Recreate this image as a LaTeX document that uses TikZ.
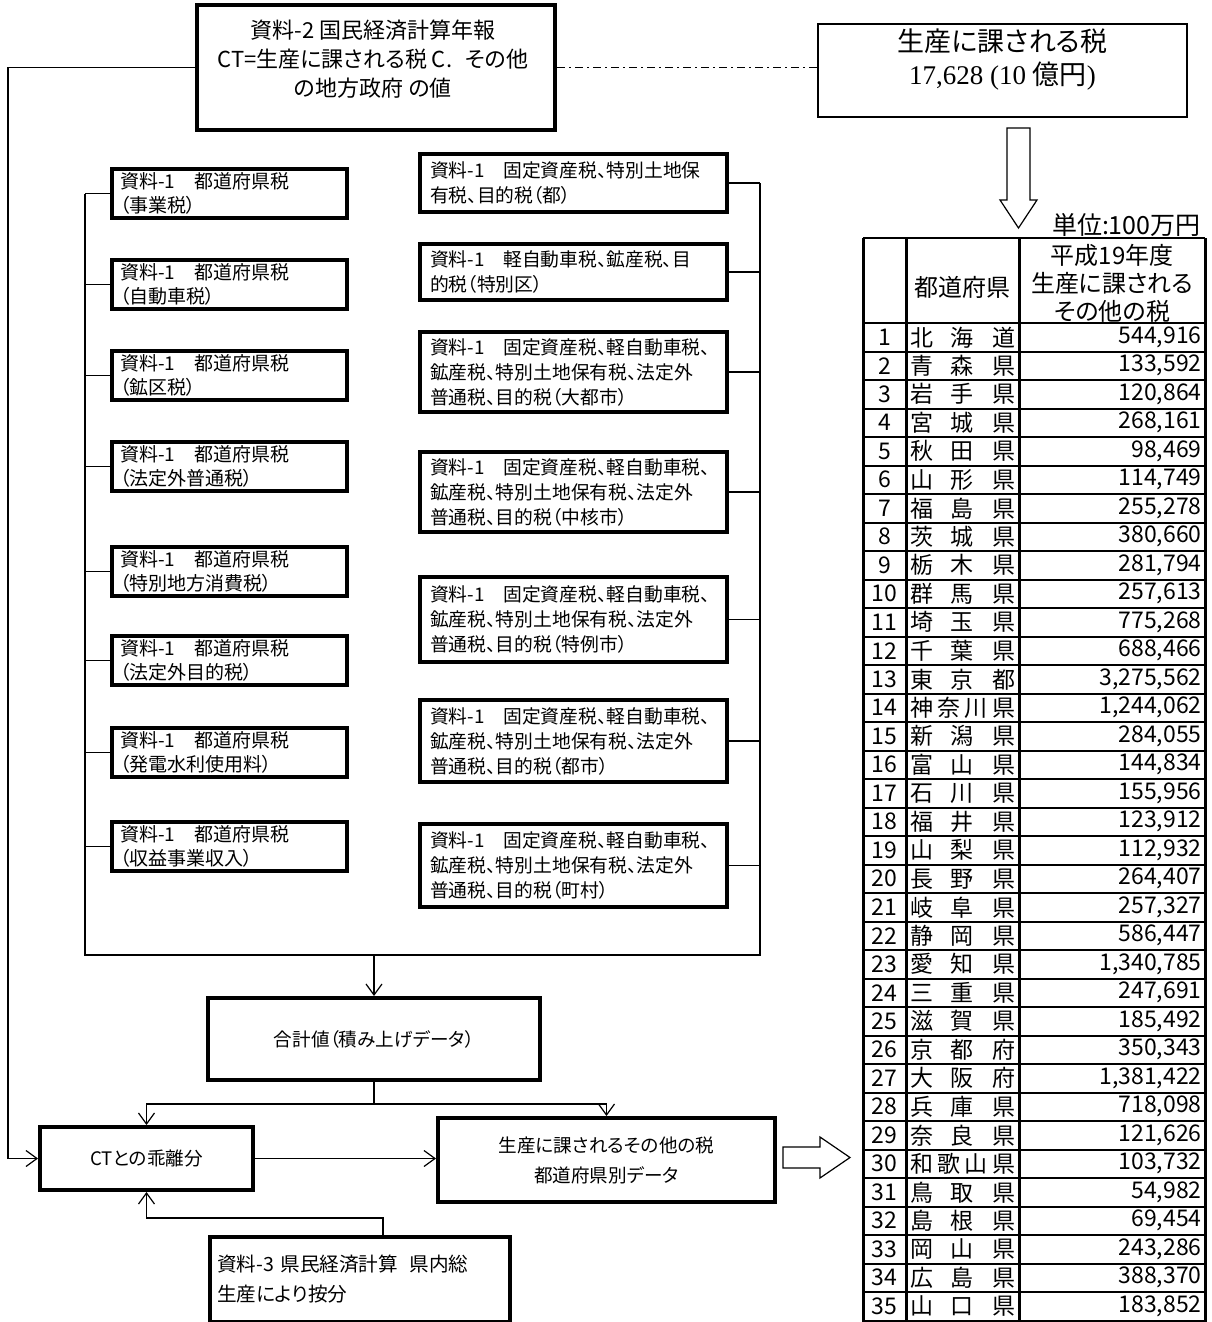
\documentclass[tikz,border=0pt]{standalone}
\usepackage{fontspec}
\setmainfont{Noto Sans CJK JP}[RawFeature=+palt]
\newfontfamily\numfont{Liberation Serif}
\usetikzlibrary{arrows.meta,positioning,calc}

\newcommand{\munitax}[1]{資料-1　固定資産税、軽自動車税、\\鉱産税、特別土地保有税、法定外\\普通税、目的税（#1）}

\begin{document}
\begin{tikzpicture}[x=0.5pt,y=-0.5pt,
  >={Straight Barb[length=5.5pt,width=8pt]},
  conn/.style={line width=0.6pt},
  heavy/.style={draw,line width=2pt},
  lbox/.style={heavy,anchor=north west,inner xsep=4pt,inner ysep=1pt,text width=109.5pt,
    minimum height=24.5pt,align=left,font=\fontsize{9.5}{12}\selectfont},
  rbox/.style={heavy,anchor=north west,inner xsep=5pt,inner ysep=1pt,text width=143.5pt,
    align=left,font=\fontsize{9.4}{12.5}\selectfont},
  cbox/.style={heavy,align=center,font=\fontsize{9.3}{15}\selectfont},
  cell/.style={inner sep=0pt,font=\fontsize{11.5}{13}\selectfont},
  tline/.style={line width=1pt},
  tcol/.style={line width=1.5pt}]
\useasboundingbox (0,0) rectangle (1211,1322);
%\draw[help lines] (0,0) grid[step=50pt] (1211,1322);

% source box and total
\node[heavy,minimum width=179pt,minimum height=62.5pt] (ct) at (376,67.5) {};
\node[align=center,font=\fontsize{11}{14.5}\selectfont] (ct text) at (373,59)
  {資料-2 国民経済計算年報\\CT=生産に課される税 C.\hspace{0.6em}その他\\の地方政府 の値};
\node[draw,conn,minimum width=184.5pt,minimum height=46.5pt] (tot) at (1002.5,70.5) {};
\node[align=center,font=\fontsize{13.5}{16.5}\selectfont] (tot text) at (1002.5,59.5)
  {生産に課される税\\{\numfont 17,628 (10 }億円{\numfont )}};
\draw[conn,dash pattern=on 4pt off 2pt on 1pt off 2pt] (ct.east) -- (ct.east -| tot.west);

% prefecture taxes
\foreach \t/\c [count=\i] in {167/事業税,258/自動車税,349/鉱区税,440/法定外普通税,
  545/特別地方消費税,634/法定外目的税,726/発電水利使用料,820/収益事業収入}
\node[lbox] (l\i) at (110,\t) {資料-1　都道府県税\\（\c）};
%
% municipal taxes
\foreach \t/\h/\c [count=\i] in {152/29/{資料-1　固定資産税、特別土地保\\有税、目的税（都）},
  242/28/{資料-1　軽自動車税、鉱産税、目\\的税（特別区）},
  330/40/{\munitax{大都市}},450/40/{\munitax{中核市}},575/42.5/{\munitax{特例市}},
  698/41/{\munitax{都市}},822/41.5/{\munitax{町村}}}
\node[rbox,minimum height=\h pt] (r\i) at (418,\t) {\c};
%
\coordinate (bl) at (85,955);
\coordinate (br) at (760,955);
\foreach \i in {1,...,8}\draw[conn] (l\i.west) -- (l\i.west -| bl);
\foreach \i in {1,...,7}\draw[conn] (r\i.east) -- (r\i.east -| br);
\draw[conn] (l1.west -| bl) -- (bl) -- (br) -- (r1.east -| br);

% lower flow
\node[cbox,minimum width=166pt,minimum height=41pt] (sum) at (374,1039) {合計値（積み上げデータ）};
\node[cbox,minimum width=106.5pt,minimum height=31.5pt] (dev) at (146.5,1158.5) {CTとの乖離分};
\node[cbox,minimum width=168.5pt,minimum height=42pt] (dat) at (606.5,1160)
  {生産に課されるその他の税\\都道府県別データ};
\node[heavy,anchor=north west,text width=143pt,inner xsep=3.5pt,minimum height=42.5pt,
  align=left,font=\fontsize{9.8}{15}\selectfont] (src3) at (208,1235)
  {資料-3 県民経済計算\hspace{0.6em}県内総\\生産により按分};
\coordinate (split) at ($(sum.south)+(0,22)$);
\draw[conn,->] (sum.north |- bl) -- (sum.north);
\draw[conn] (sum.south) -- (split);
\draw[conn,->] (split) -| (dev.north);
\draw[conn,->] (split) -| (dat.north);
\draw[conn,->] (dev.east) -- (dev.east -| dat.west);
\draw[conn,->] (ct.west) -- ++(-187,0) |- (dev.west);
\draw[conn,->] ([xshift=11.5pt]src3.north) -- ++(0,-17) -| (dev.south);

% hollow arrows
\draw[conn] (1007,128) -- (1030,128) -- (1030,200) -- (1037,200) -- (1018.5,228)
  -- (1000,200) -- (1007,200) -- cycle;
\draw[conn] (783,1147) -- (820,1147) -- (820,1137) -- (850,1157.5) -- (820,1178)
  -- (820,1168) -- (783,1168) -- cycle;

% table
\node[cell,anchor=south east,font=\fontsize{12.5}{14}\selectfont] (unit) at (1201,237) {単位:100万円};
\draw[tline] (863,238) -- (1205,238);
\foreach \k in {0,...,35}\draw[tline] (863,{323+\k*28.5}) -- (1205,{323+\k*28.5});
\foreach \x in {863,906,1019,1205}\draw[tcol] (\x,238) -- (\x,1322);
\node[cell,font=\fontsize{12}{14}\selectfont] (hpref) at (962.5,287) {都道府県};
\node[cell,align=center,font=\fontsize{12}{14}\selectfont] (htax) at (1112,283)
  {平成19年度\\生産に課される\\その他の税};
\foreach \p/\v [count=\i] in {北 海 道/{544,916},青 森 県/{133,592},岩 手 県/{120,864},
  宮 城 県/{268,161},秋 田 県/{98,469},山 形 県/{114,749},福 島 県/{255,278},
  茨 城 県/{380,660},栃 木 県/{281,794},群 馬 県/{257,613},埼 玉 県/{775,268},
  千 葉 県/{688,466},東 京 都/{3,275,562},神 奈 川 県/{1,244,062},新 潟 県/{284,055},
  富 山 県/{144,834},石 川 県/{155,956},福 井 県/{123,912},山 梨 県/{112,932},
  長 野 県/{264,407},岐 阜 県/{257,327},静 岡 県/{586,447},愛 知 県/{1,340,785},
  三 重 県/{247,691},滋 賀 県/{185,492},京 都 府/{350,343},大 阪 府/{1,381,422},
  兵 庫 県/{718,098},奈 良 県/{121,626},和 歌 山 県/{103,732},鳥 取 県/{54,982},
  島 根 県/{69,454},岡 山 県/{243,286},広 島 県/{388,370},山 口 県/{183,852}}
{
\node[cell] (n\i) at (884.5,{323+(\i-0.5)*28.5}) {\i};
\node[cell] (p\i) at (962.5,{323+(\i-0.5)*28.5}) {\makebox[52.5pt][s]{\p}};
\node[cell,anchor=east] (v\i) at (1202,{323+(\i-0.5)*28.5}) {\v};
}
\end{tikzpicture}
\end{document}
